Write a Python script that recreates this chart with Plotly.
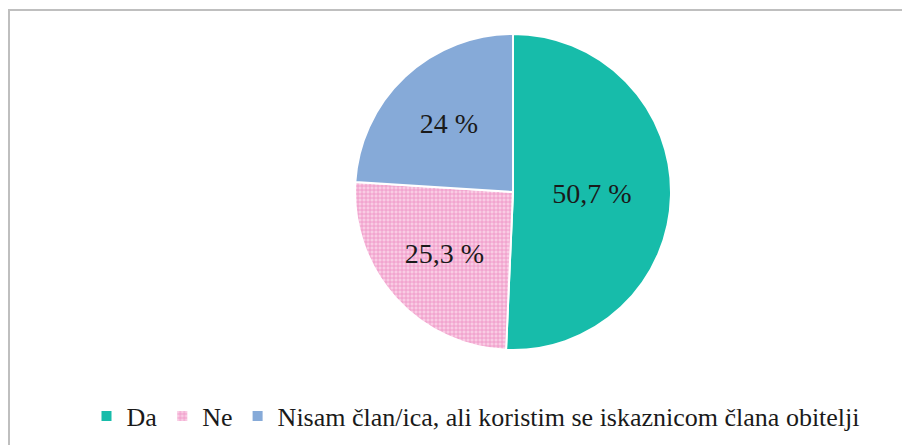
import plotly.graph_objects as go

# survey answers
labels = ["Da", "Ne", "Nisam član/ica, ali koristim se iskaznicom člana obitelji"]
values = [50.7, 25.3, 24.0]
text_labels = ["50,7 %", "25,3 %", "24 %"]

SLICE_COLORS = ["#17BCAA", "#F7BEDD", "#86AAD8"]
FONT = "Liberation Serif"
TEXT_COLOR = "#1A1A1A"

W, H = 910, 445
# pie centre and radius in figure pixels (page has an 8px body margin)
cx, cy, r = 505, 184, 158

fig = go.Figure(
    go.Pie(
        labels=labels,
        values=values,
        text=text_labels,
        textinfo="text",
        textposition="inside",
        insidetextorientation="horizontal",
        sort=False,
        direction="clockwise",
        rotation=0,
        marker=dict(
            colors=SLICE_COLORS,
            line=dict(color="#FFFFFF", width=2),
            pattern=dict(
                shape=["", "+", ""],
                fgcolor=["#17BCAA", "#EE8DC4", "#86AAD8"],
                bgcolor=["#17BCAA", "#F9CCE4", "#86AAD8"],
                size=4,
                solidity=0.35,
            ),
        ),
        textfont=dict(family=FONT, size=28, color=TEXT_COLOR),
        domain=dict(
            x=[(cx - r) / W, (cx + r) / W],
            y=[(H - cy - r) / H, (H - cy + r) / H],
        ),
        hoverinfo="label+percent",
    )
)

fig.update_layout(
    width=W,
    height=H,
    margin=dict(l=0, r=0, t=0, b=0),
    paper_bgcolor="#FFFFFF",
    plot_bgcolor="#FFFFFF",
    font=dict(family=FONT, color=TEXT_COLOR),
    showlegend=True,
    legend=dict(
        orientation="h",
        x=468 / W,
        xanchor="center",
        y=37 / H,
        yanchor="middle",
        font=dict(family=FONT, size=26, color=TEXT_COLOR),
        itemwidth=30,
        traceorder="normal",
    ),
    shapes=[
        dict(
            type="rect",
            xref="paper",
            yref="paper",
            x0=1 / W,
            x1=1.02,
            y0=-0.02,
            y1=1 - 2 / H,
            line=dict(color="#BFBFBF", width=2),
        )
    ],
)

fig.write_html("out.html")
